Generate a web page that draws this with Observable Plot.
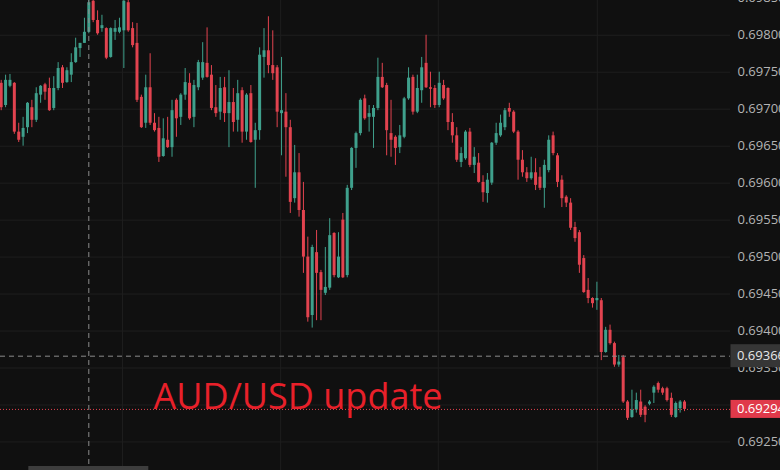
<!DOCTYPE html>
<html><head><meta charset="utf-8">
<script src="https://cdn.jsdelivr.net/npm/d3@7"></script>
<script src="https://cdn.jsdelivr.net/npm/@observablehq/plot@0.6"></script>
<style>
html,body{margin:0;padding:0;background:#101010;overflow:hidden;}
#chart{position:relative;width:780px;height:470px;overflow:hidden;}
</style></head><body><div id="chart"></div>
<script>
// AUD/USD candles (OHLC)
const open = [0.69735,0.69705,0.69731,0.69735,0.69669,0.69662,0.69675,0.69702,0.69685,0.69719,
0.69733,0.69728,0.69701,0.69728,0.69756,0.69736,0.69746,0.69763,0.69782,0.69789,
0.69804,0.69846,0.69820,0.69809,0.69809,0.69770,0.69804,0.69804,0.69806,0.69844,
0.69809,0.69789,0.69716,0.69681,0.69729,0.69681,0.69674,0.69636,0.69658,0.69648,
0.69712,0.69689,0.69719,0.69735,0.69689,0.69729,0.69742,0.69762,0.69746,0.69702,
0.69696,0.69729,0.69694,0.69709,0.69685,0.69725,0.69669,0.69721,0.69658,0.69671,
0.69770,0.69779,0.69759,0.69756,0.69694,0.69696,0.69675,0.69579,0.69614,0.69563,
0.69500,0.69421,0.69506,0.69479,0.69451,0.69458,0.69532,0.69472,0.69550,0.69475,
0.69593,0.69647,0.69667,0.69714,0.69689,0.69689,0.69701,0.69743,0.69732,0.69667,
0.69662,0.69648,0.69662,0.69714,0.69743,0.69696,0.69725,0.69762,0.69729,0.69728,
0.69705,0.69732,0.69728,0.69682,0.69664,0.69628,0.69633,0.69669,0.69624,0.69627,
0.69601,0.69586,0.69600,0.69654,0.69664,0.69675,0.69701,0.69696,0.69669,0.69631,
0.69614,0.69606,0.69614,0.69608,0.69593,0.69617,0.69664,0.69637,0.69604,0.69581,
0.69573,0.69540,0.69533,0.69498,0.69455,0.69444,0.69441,0.69441,0.69371,0.69401,
0.69383,0.69354,0.69364,0.69304,0.69283,0.69293,0.69304,0.69297,0.69301,0.69316,
0.69329,0.69322,0.69322,0.69309,0.69283,0.69295,0.69304];
const high = [0.69739,0.69746,0.69747,0.69736,0.69681,0.69689,0.69709,0.69712,0.69729,0.69732,
0.69735,0.69742,0.69744,0.69763,0.69759,0.69756,0.69775,0.69796,0.69789,0.69823,
0.69847,0.69852,0.69833,0.69827,0.69810,0.69810,0.69820,0.69823,0.69852,0.69850,
0.69817,0.69816,0.69719,0.69746,0.69775,0.69694,0.69689,0.69687,0.69689,0.69712,
0.69714,0.69721,0.69755,0.69748,0.69739,0.69766,0.69790,0.69810,0.69759,0.69732,
0.69743,0.69743,0.69752,0.69728,0.69739,0.69729,0.69721,0.69732,0.69681,0.69783,
0.69809,0.69825,0.69806,0.69759,0.69770,0.69721,0.69685,0.69651,0.69640,0.69601,
0.69527,0.69516,0.69536,0.69482,0.69513,0.69552,0.69533,0.69533,0.69559,0.69597,
0.69648,0.69669,0.69714,0.69719,0.69705,0.69705,0.69769,0.69762,0.69735,0.69712,
0.69664,0.69678,0.69716,0.69756,0.69746,0.69746,0.69770,0.69800,0.69750,0.69732,
0.69750,0.69739,0.69729,0.69694,0.69675,0.69648,0.69671,0.69674,0.69648,0.69640,
0.69610,0.69613,0.69655,0.69681,0.69692,0.69701,0.69708,0.69698,0.69671,0.69644,
0.69621,0.69635,0.69633,0.69621,0.69631,0.69664,0.69669,0.69640,0.69610,0.69583,
0.69579,0.69547,0.69536,0.69502,0.69471,0.69445,0.69466,0.69444,0.69405,0.69408,
0.69385,0.69367,0.69367,0.69306,0.69320,0.69316,0.69320,0.69299,0.69306,0.69326,
0.69331,0.69324,0.69324,0.69316,0.69304,0.69306,0.69306];
const low = [0.69698,0.69702,0.69729,0.69666,0.69655,0.69650,0.69667,0.69675,0.69682,0.69708,
0.69712,0.69697,0.69698,0.69725,0.69728,0.69735,0.69736,0.69762,0.69770,0.69789,
0.69802,0.69817,0.69800,0.69804,0.69767,0.69769,0.69793,0.69802,0.69755,0.69804,
0.69783,0.69709,0.69674,0.69674,0.69678,0.69669,0.69628,0.69635,0.69647,0.69635,
0.69662,0.69678,0.69712,0.69685,0.69675,0.69725,0.69739,0.69742,0.69698,0.69689,
0.69685,0.69682,0.69648,0.69669,0.69669,0.69654,0.69658,0.69654,0.69593,0.69658,
0.69742,0.69748,0.69739,0.69675,0.69637,0.69608,0.69559,0.69573,0.69554,0.69478,
0.69412,0.69404,0.69414,0.69414,0.69448,0.69455,0.69472,0.69471,0.69471,0.69472,
0.69590,0.69620,0.69664,0.69685,0.69669,0.69647,0.69698,0.69728,0.69637,0.69635,
0.69624,0.69640,0.69660,0.69712,0.69692,0.69694,0.69708,0.69728,0.69702,0.69701,
0.69702,0.69712,0.69671,0.69654,0.69628,0.69621,0.69631,0.69621,0.69613,0.69600,
0.69574,0.69573,0.69597,0.69651,0.69662,0.69671,0.69689,0.69667,0.69604,0.69608,
0.69601,0.69604,0.69590,0.69590,0.69566,0.69614,0.69637,0.69594,0.69567,0.69567,
0.69536,0.69520,0.69478,0.69451,0.69437,0.69431,0.69428,0.69360,0.69370,0.69381,
0.69351,0.69351,0.69302,0.69279,0.69282,0.69289,0.69283,0.69276,0.69299,0.69302,
0.69316,0.69313,0.69304,0.69283,0.69282,0.69289,0.69291];
const close = [0.69702,0.69739,0.69739,0.69669,0.69658,0.69674,0.69708,0.69685,0.69721,0.69731,
0.69723,0.69698,0.69728,0.69755,0.69735,0.69752,0.69763,0.69783,0.69789,0.69804,
0.69844,0.69820,0.69802,0.69813,0.69769,0.69809,0.69809,0.69810,0.69846,0.69806,
0.69786,0.69712,0.69675,0.69729,0.69681,0.69671,0.69635,0.69660,0.69648,0.69698,
0.69687,0.69719,0.69736,0.69687,0.69732,0.69763,0.69763,0.69743,0.69701,0.69694,
0.69728,0.69694,0.69709,0.69682,0.69721,0.69669,0.69719,0.69655,0.69671,0.69773,
0.69779,0.69759,0.69748,0.69696,0.69698,0.69675,0.69574,0.69614,0.69563,0.69500,
0.69418,0.69513,0.69478,0.69455,0.69459,0.69529,0.69475,0.69500,0.69472,0.69593,
0.69647,0.69667,0.69712,0.69687,0.69694,0.69701,0.69743,0.69729,0.69671,0.69658,
0.69647,0.69664,0.69714,0.69742,0.69696,0.69728,0.69756,0.69729,0.69727,0.69705,
0.69735,0.69714,0.69682,0.69664,0.69631,0.69640,0.69669,0.69624,0.69635,0.69601,
0.69587,0.69604,0.69654,0.69667,0.69681,0.69698,0.69696,0.69669,0.69631,0.69614,
0.69606,0.69614,0.69597,0.69593,0.69624,0.69658,0.69640,0.69601,0.69579,0.69573,
0.69539,0.69525,0.69489,0.69452,0.69444,0.69437,0.69444,0.69371,0.69401,0.69383,
0.69354,0.69358,0.69304,0.69282,0.69293,0.69306,0.69286,0.69286,0.69304,0.69324,
0.69320,0.69316,0.69306,0.69286,0.69302,0.69304,0.69294];

const priceTicks = [0.6925,0.6930,0.6935,0.6940,0.6945,0.6950,0.6955,0.6960,0.6965,0.6970,0.6975,0.6980,0.6985];
const timeGrid = [27.7, 63.8, 99.8, 136.1];   // bar positions of the vertical grid lines
const crossIndex = 20;
const crossPrice = 0.69366;
const lastPrice = close[close.length - 1];
const title = "AUD/USD update";

const upColor = "#3fa08c", downColor = "#e2434f";
const candles = open.map((o, i) => ({i, open: o, high: high[i], low: low[i], close: close[i]}));
const colorOf = d => d.close >= d.open ? upColor : downColor;

const plot = Plot.plot({
  width: 780, height: 470,
  marginLeft: 0, marginRight: 50, marginTop: 0, marginBottom: 0,
  style: {background: "#101010", fontFamily: "'Open Sans', sans-serif", fontSize: "13px", color: "#b4b4b4", overflow: "visible"},
  x: {domain: [-0.16, 166.5], axis: null},
  y: {domain: [0.692114, 0.69847], axis: null},
  color: {type: "identity"},
  marks: [
    Plot.ruleY(priceTicks, {stroke: "#1e1e1e"}),
    Plot.ruleX(timeGrid, {stroke: "#1e1e1e"}),
    Plot.ruleX(candles, {x: "i", y1: "low", y2: "high", stroke: colorOf, strokeWidth: 1}),
    Plot.ruleX(candles, {x: "i", y1: "open", y2: "close", stroke: colorOf, strokeWidth: 3}),
    Plot.ruleX([crossIndex], {stroke: "#8c8c8c", strokeDasharray: "5,4"}),
    Plot.ruleY([crossPrice], {stroke: "#8c8c8c", strokeDasharray: "5,4"}),
    Plot.ruleY([lastPrice], {stroke: downColor, strokeDasharray: "1,2"}),
    Plot.axisY({anchor: "right", ticks: priceTicks, tickSize: 0, tickPadding: 7, tickFormat: d3.format(".5f"), fill: "#b4b4b4"}),
    Plot.text([title], {frameAnchor: "top-left", dx: 153, dy: 408, lineAnchor: "bottom", text: d => d, fill: "#e8202a", fontSize: 36, fontFamily: "'Open Sans', sans-serif"})
  ]
});

const ys = plot.scale("y"), xs = plot.scale("x");
const svg = d3.select(plot);
function priceTag(price, fill, h, textFill) {
  const cy = ys.apply(price);
  const g = svg.append("g").attr("text-anchor", "start");
  g.append("rect").attr("x", 730.5).attr("y", cy - h / 2).attr("width", 60).attr("height", h).attr("fill", fill);
  g.append("text").attr("x", 737).attr("y", cy).attr("dy", "0.35em").attr("fill", textFill)
    .attr("text-anchor", "start").attr("font-size", 13).text(d3.format(".5f")(price));
}
priceTag(crossPrice, "#363636", 23, "#e8e8e8");
priceTag(lastPrice, "#e0394a", 18, "#ffffff");
// crosshair time label (cut at bottom)
const cx = xs.apply(crossIndex);
svg.append("rect").attr("x", cx - 60).attr("y", 466).attr("width", 120).attr("height", 10).attr("fill", "#3d3d3d");

document.getElementById("chart").appendChild(plot);
</script></body></html>
